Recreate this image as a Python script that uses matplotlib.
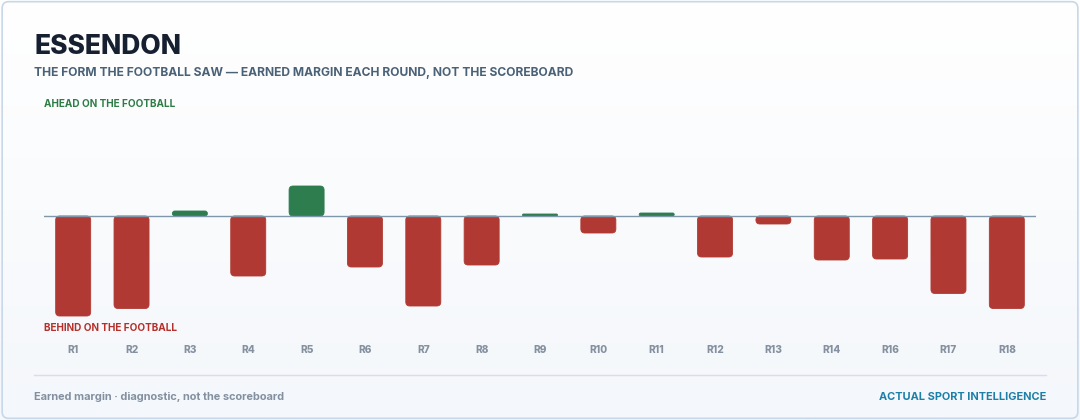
import numpy as np
import matplotlib.pyplot as plt
from matplotlib.patches import FancyBboxPatch
from matplotlib.lines import Line2D

plt.rcParams['font.family'] = ['Inter', 'DejaVu Sans']

# earned margin each round (points)
rounds = ['R1', 'R2', 'R3', 'R4', 'R5', 'R6', 'R7', 'R8', 'R9', 'R10',
          'R11', 'R12', 'R13', 'R14', 'R16', 'R17', 'R18']
margin = [-40, -37, 2, -24, 12, -20.4, -36, -19.6, 0.8, -6.8,
          1.2, -16.4, -3.2, -17.6, -17.2, -31, -37]

title = 'ESSENDON'
subtitle = 'THE FORM THE FOOTBALL SAW \u2014 EARNED MARGIN EACH ROUND, NOT THE SCOREBOARD'
ahead_lbl = 'AHEAD ON THE FOOTBALL'
behind_lbl = 'BEHIND ON THE FOOTBALL'
foot_left = 'Earned margin \u00b7 diagnostic, not the scoreboard'
foot_right = 'ACTUAL SPORT INTELLIGENCE'

RED = '#b03a33'
GREEN = '#2e7d4f'
W, H = 1080, 420

fig = plt.figure(figsize=(W / 100, H / 100), dpi=100)
fig.patch.set_facecolor('white')

# card background with soft vertical gradient
bg = fig.add_axes([0, 0, 1, 1])
bg.set_axis_off()
grad = np.linspace(0, 1, 256).reshape(-1, 1)
top_c = np.array([1.0, 1.0, 1.0])
bot_c = np.array([0xf4, 0xf7, 0xfb]) / 255
img = top_c + (bot_c - top_c) * grad[..., None]
bg.imshow(img, aspect='auto', extent=[0, 1, 0, 1], origin='upper')
bg.add_patch(FancyBboxPatch((0.002, 0.004), 0.996, 0.992,
                            boxstyle='round,pad=0,rounding_size=0.006',
                            transform=bg.transAxes, fill=False,
                            edgecolor='#c8d8e8', linewidth=1.2,
                            mutation_aspect=W / H))
bg.set_xlim(0, 1)
bg.set_ylim(0, 1)


def px(x, y):
    return x / W, 1 - y / H


# text
fig.text(*px(34, 47), title, fontsize=19, fontweight='heavy', color='#172030', va='center')
fig.text(*px(34, 73), subtitle, fontsize=8.7, fontweight='bold', color='#4a6278', va='center')
fig.text(*px(44, 104), ahead_lbl, fontsize=7.2, fontweight='bold', color='#2e7d46', va='center')
fig.text(*px(44, 328), behind_lbl, fontsize=7.2, fontweight='bold', color='#b5302a', va='center')
fig.text(*px(34, 397), foot_left, fontsize=7.9, fontweight='bold', color='#8390a0', va='center')
fig.text(*px(1046, 397), foot_right, fontsize=7.9, fontweight='bold', color='#1d7fa8',
         va='center', ha='right')
fig.add_artist(Line2D([34 / W, 1046 / W], [1 - 374.5 / H] * 2, color='#d3e0ec', linewidth=1))

# bar axes
ax_l, ax_r, ax_t, ax_b = 44, 1036, 116, 320
ax = fig.add_axes([ax_l / W, 1 - ax_b / H, (ax_r - ax_l) / W, (ax_b - ax_t) / H])
ax.set_facecolor('none')
x = np.arange(len(rounds))
ax.set_xlim(-0.5, len(rounds) - 0.5)
ax.set_ylim(-41.6, 40)
for s in ax.spines.values():
    s.set_visible(False)
ax.set_yticks([])
ax.set_xticks(x)
ax.set_xticklabels(rounds, fontsize=7.3, fontweight='heavy', color='#8591a0')
ax.tick_params(axis='x', length=0, pad=18)

ppx = (ax_r - ax_l) / len(rounds)          # pixels per x unit
ppy = (ax_b - ax_t) / (40 + 41.6)          # pixels per y unit
bw = 0.6
for xi, v in zip(x, margin):
    h_px = abs(v) * ppy
    r_px = min(4.0, h_px / 2)
    col = GREEN if v > 0 else RED
    y0 = min(0, v)
    ax.add_patch(FancyBboxPatch((xi - bw / 2, y0), bw, abs(v),
                                boxstyle=f'round,pad=0,rounding_size={r_px / ppx}',
                                mutation_aspect=ppx / ppy,
                                facecolor=col, edgecolor=col, linewidth=0.6, zorder=2))
ax.axhline(0, color='#7f97aa', linewidth=1, zorder=3)

fig.savefig('out.png', dpi=100)
